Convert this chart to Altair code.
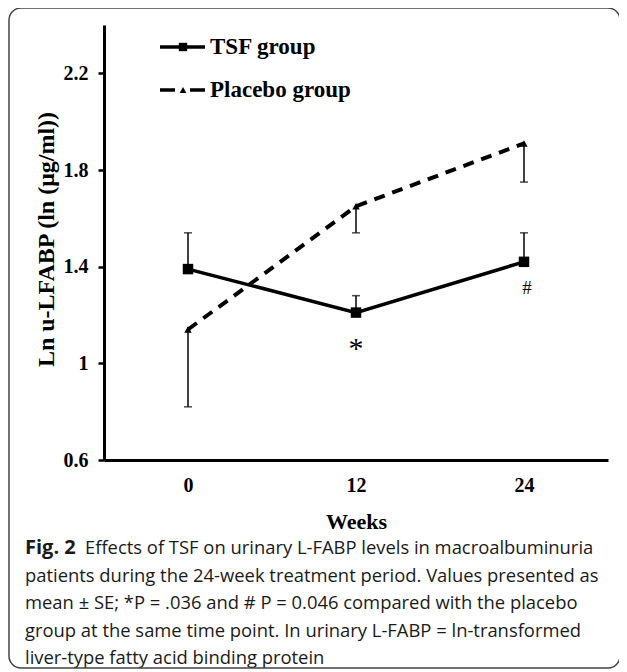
import altair as alt
import pandas as pd

# ---- data ----
weeks = [0, 12, 24]
tsf_mean = [1.39, 1.21, 1.42]
tsf_se = [0.15, 0.07, 0.12]          # error bars drawn upward
placebo_mean = [1.14, 1.65, 1.91]
placebo_se = [0.32, 0.11, 0.16]      # error bars drawn downward
y_ticks = [0.6, 1.0, 1.4, 1.8, 2.2]
x_ticks = [0, 12, 24]
groups = ["TSF group", "Placebo group"]
annot_week = [12, 24]
annot_text = ["*", "#"]
annot_mean = [1.21, 1.42]
caption_lines = [
    "Effects of TSF on urinary L-FABP levels in macroalbuminuria",
    "patients during the 24-week treatment period. Values presented as",
    "mean \u00b1 SE; *P = .036 and # P = 0.046 compared with the placebo",
    "group at the same time point. In urinary L-FABP = ln-transformed",
    "liver-type fatty acid binding protein",
]

rows = []
for w, m, s in zip(weeks, tsf_mean, tsf_se):
    rows.append({"week": w, "group": groups[0], "mean": m, "end": m + s})
for w, m, s in zip(weeks, placebo_mean, placebo_se):
    rows.append({"week": w, "group": groups[1], "mean": m, "end": m - s})
df = pd.DataFrame(rows)

SERIF = "Liberation Serif"
SANS = "Open Sans"

xs = alt.Scale(domain=[-6, 30], nice=False, zero=False)
ys = alt.Scale(domain=[0.6, 2.4], nice=False, zero=False)

x_axis = alt.Axis(values=x_ticks, labelFont=SERIF, labelFontSize=20, labelFontWeight="bold",
                  labelColor="black", labelPadding=15, tickSize=0, domainColor="black",
                  domainWidth=3, grid=False, title="Weeks", titleFont=SERIF, titleFontSize=22,
                  titleFontWeight="bold", titleColor="black", titleBaseline="middle", titleY=61)
y_axis = alt.Axis(values=y_ticks, labelExpr="datum.value == 1 ? '1' : format(datum.value, '.1f')",
                  labelFont=SERIF, labelFontSize=20, labelFontWeight="bold", labelColor="black",
                  labelPadding=10, tickSize=6, tickWidth=2.5, tickColor="black", domainColor="black",
                  domainWidth=3, grid=False, title="Ln u-LFABP (ln (\u03bcg/ml))", titleFont=SERIF,
                  titleFontSize=24, titleFontWeight="bold", titleColor="black", titleAngle=-90,
                  titleBaseline="middle", titleAlign="center", titleX=-58, titleY=214)

base = alt.Chart(df)
X = alt.X("week:Q", scale=xs, axis=x_axis)
Y = alt.Y("mean:Q", scale=ys, axis=y_axis)

err = base.mark_rule(color="black", strokeWidth=1.5).encode(x=X, y=Y, y2="end:Q")
caps = base.mark_tick(color="black", orient="horizontal", size=8, thickness=1.5).encode(
    x=alt.X("week:Q", scale=xs), y=alt.Y("end:Q", scale=ys))
tsf_line = base.transform_filter(alt.datum.group == groups[0]).mark_line(
    color="black", strokeWidth=3.5).encode(x=alt.X("week:Q", scale=xs), y=alt.Y("mean:Q", scale=ys))
pla_line = base.transform_filter(alt.datum.group == groups[1]).mark_line(
    color="black", strokeWidth=4, strokeDash=[11, 8]).encode(
    x=alt.X("week:Q", scale=xs), y=alt.Y("mean:Q", scale=ys))
tsf_pts = base.transform_filter(alt.datum.group == groups[0]).mark_point(
    shape="square", filled=True, color="black", size=110, opacity=1).encode(
    x=alt.X("week:Q", scale=xs), y=alt.Y("mean:Q", scale=ys))
pla_pts = base.transform_filter(alt.datum.group == groups[1]).mark_point(
    shape="triangle-up", filled=True, color="black", size=55, opacity=1).encode(
    x=alt.X("week:Q", scale=xs), y=alt.Y("mean:Q", scale=ys))

ann_df = pd.DataFrame({"week": annot_week, "text": annot_text, "mean": annot_mean})
star = alt.Chart(ann_df.iloc[[0]]).mark_text(font=SERIF, fontSize=30, dy=36, color="black").encode(
    x=alt.X("week:Q", scale=xs), y=alt.Y("mean:Q", scale=ys), text="text:N")
hash_ = alt.Chart(ann_df.iloc[[1]]).mark_text(font=SERIF, fontSize=19, dx=3, dy=26, color="black").encode(
    x=alt.X("week:Q", scale=xs), y=alt.Y("mean:Q", scale=ys), text="text:N")

# ---- hand-drawn legend (decoration) ----
one = pd.DataFrame({"label": [groups[0]]})
two = pd.DataFrame({"label": [groups[1]]})
leg1_line = alt.Chart(one).mark_rule(color="black", strokeWidth=3.5).encode(
    x=alt.value(56), x2=alt.value(101), y=alt.value(22))
leg1_pt = alt.Chart(one).mark_point(shape="square", filled=True, color="black", size=70, opacity=1).encode(
    x=alt.value(79), y=alt.value(22))
leg1_txt = alt.Chart(one).mark_text(font=SERIF, fontSize=23, fontWeight="bold", align="left",
                                     baseline="middle", color="black").encode(
    x=alt.value(106), y=alt.value(22), text="label:N")
leg2_line = alt.Chart(two).mark_rule(color="black", strokeWidth=3.5, strokeDash=[15, 15]).encode(
    x=alt.value(56), x2=alt.value(101), y=alt.value(65))
leg2_pt = alt.Chart(two).mark_point(shape="triangle-up", filled=True, color="black", size=45, opacity=1).encode(
    x=alt.value(79), y=alt.value(65))
leg2_txt = alt.Chart(two).mark_text(font=SERIF, fontSize=23, fontWeight="bold", align="left",
                                     baseline="middle", color="black").encode(
    x=alt.value(106), y=alt.value(65), text="label:N")

# ---- caption ----
CAP_Y0, CAP_DY = 523, 27.6
fig_lbl = alt.Chart(pd.DataFrame({"t": ["Fig. 2"]})).mark_text(
    font=SANS, fontSize=20, fontWeight="bold", align="left", baseline="middle", color="#1a1a1a").encode(
    x=alt.value(-79), y=alt.value(CAP_Y0), text="t:N")
cap_layers = []
for i, line in enumerate(caption_lines):
    cap_layers.append(
        alt.Chart(pd.DataFrame({"line": [line]})).mark_text(
            font=SANS, fontSize=18.4, align="left", baseline="middle", color="#1a1a1a").encode(
            x=alt.value(-19 if i == 0 else -79), y=alt.value(CAP_Y0 + i * CAP_DY), text="line:N")
    )

border = alt.Chart(pd.DataFrame({"b": [0]})).mark_rect(
    filled=False, stroke="#444444", strokeWidth=1.5, cornerRadius=12).encode(
    x=alt.value(-95), x2=alt.value(516), y=alt.value(-17), y2=alt.value(643))

chart = alt.layer(
    err, caps, pla_line, tsf_line, pla_pts, tsf_pts, star, hash_,
    leg1_line, leg1_pt, leg1_txt, leg2_line, leg2_pt, leg2_txt,
    fig_lbl, *cap_layers, border,
).properties(
    width=504, height=435,
    autosize=alt.AutoSizeParams(type="none"),
    padding={"left": 96, "top": 17, "right": 11, "bottom": 212},
).configure_view(stroke=None)

chart.save("out.html", embed_options={"renderer": "svg", "actions": False})
